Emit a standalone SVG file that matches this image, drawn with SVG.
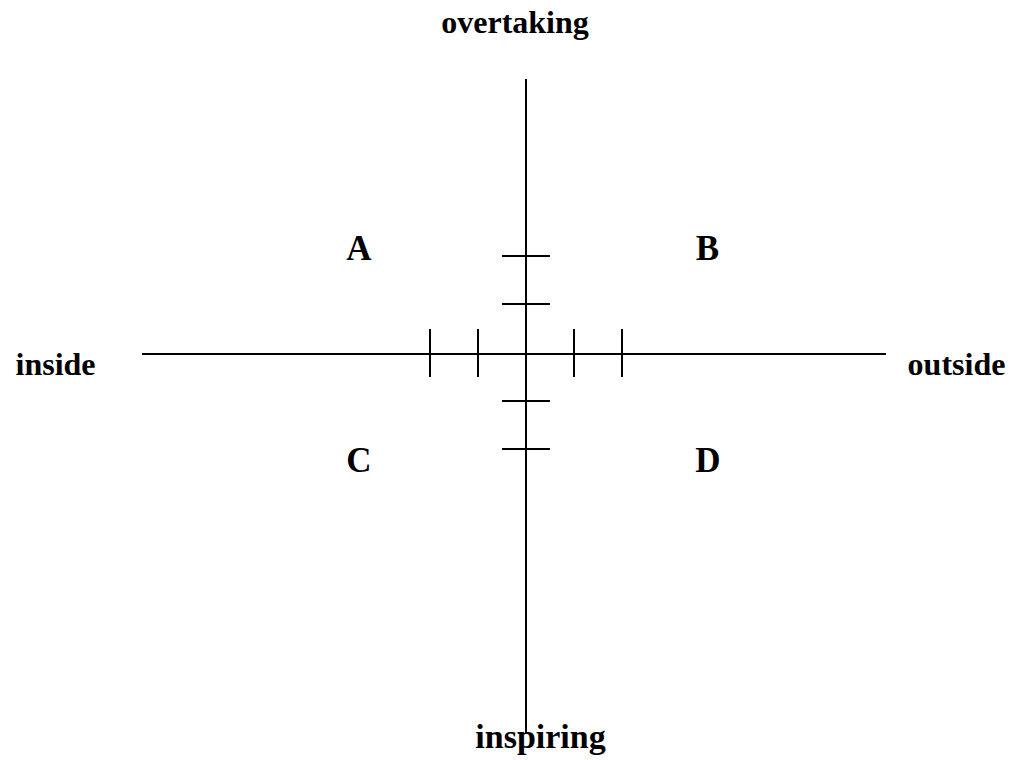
<svg xmlns="http://www.w3.org/2000/svg" width="1011" height="760" viewBox="0 0 1011 760">
<style>
.ln{stroke:#000;stroke-width:2;fill:none}
.t{font-family:"Liberation Serif","Times New Roman",serif;font-weight:bold;font-size:32px;fill:#000;text-anchor:middle}
.q{font-size:35px}
</style>
<rect width="1011" height="760" fill="#fff"/>
<g id="connectors">
<line class="ln" x1="526" y1="79" x2="526" y2="734"/>
<line class="ln" x1="142" y1="354" x2="886" y2="354"/>
<line class="ln" x1="502" y1="256" x2="550" y2="256"/>
<line class="ln" x1="502" y1="304" x2="550" y2="304"/>
<line class="ln" x1="502" y1="401" x2="550" y2="401"/>
<line class="ln" x1="502" y1="449" x2="550" y2="449"/>
<line class="ln" x1="430" y1="329" x2="430" y2="377"/>
<line class="ln" x1="478" y1="329" x2="478" y2="377"/>
<line class="ln" x1="574" y1="329" x2="574" y2="377"/>
<line class="ln" x1="622" y1="329" x2="622" y2="377"/>
</g>
<g id="overtaking"><text class="t" x="515" y="33">overtaking</text></g>
<g id="inspiring"><text class="t" x="540.5" y="748" style="font-size:34px">inspiring</text></g>
<g id="inside"><text class="t" x="55.5" y="375">inside</text></g>
<g id="outside"><text class="t" x="956.5" y="375">outside</text></g>
<g id="A"><text class="t q" x="359" y="260">A</text></g>
<g id="B"><text class="t q" x="707.5" y="260">B</text></g>
<g id="C"><text class="t q" x="359" y="472">C</text></g>
<g id="D"><text class="t q" x="708" y="472">D</text></g>
</svg>
